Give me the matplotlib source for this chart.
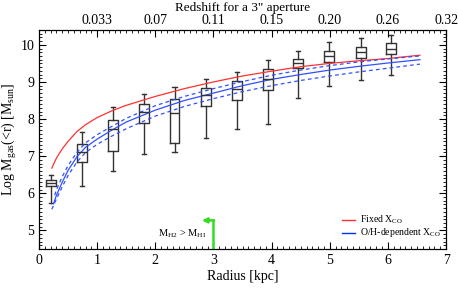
import matplotlib
matplotlib.use("Agg")
import matplotlib.pyplot as plt
from matplotlib.ticker import MultipleLocator

plt.rcParams['font.family'] = ['Liberation Serif', 'DejaVu Serif']
plt.rcParams['mathtext.fontset'] = 'custom'
plt.rcParams['mathtext.rm'] = 'Liberation Serif'
plt.rcParams['mathtext.it'] = 'Liberation Serif'

# box plot data: radius bins and Log Mgas statistics
box_r = [0.21, 0.745, 1.27, 1.81, 2.33, 2.87, 3.40, 3.93, 4.46, 4.99, 5.53, 6.05]
whis_lo = [5.75, 6.19, 6.61, 7.05, 7.11, 7.50, 7.72, 7.86, 8.56, 8.89, 9.06, 9.18]
q1 = [6.19, 6.85, 7.14, 7.89, 7.35, 8.34, 8.52, 8.77, 9.37, 9.55, 9.65, 9.75]
med = [6.28, 7.11, 7.73, 8.18, 8.17, 8.64, 8.81, 9.08, 9.51, 9.70, 9.80, 9.90]
q3 = [6.35, 7.34, 7.98, 8.40, 8.53, 8.84, 9.02, 9.34, 9.63, 9.83, 9.95, 10.04]
whis_hi = [6.49, 7.66, 8.33, 8.68, 8.87, 9.08, 9.27, 9.59, 9.83, 10.07, 10.19, 10.27]

# curves
r_red = [0.22, 0.3, 0.4, 0.5, 0.65, 0.8, 1.0, 1.25, 1.5, 2.0, 2.5, 3.0, 3.5, 4.0, 4.5, 5.0, 5.5, 6.0, 6.55]
m_red = [6.68, 6.95, 7.20, 7.40, 7.66, 7.85, 8.04, 8.22, 8.37, 8.61, 8.82, 9.00, 9.16, 9.29, 9.41, 9.50, 9.57, 9.63, 9.72]

r_blue = [0.25, 0.3, 0.4, 0.5, 0.65, 0.8, 1.0, 1.25, 1.5, 2.0, 2.5, 3.0, 3.5, 4.0, 4.5, 5.0, 5.5, 6.0, 6.55]
m_blue = [5.72, 5.95, 6.30, 6.62, 6.98, 7.24, 7.46, 7.70, 7.92, 8.24, 8.50, 8.70, 8.90, 9.07, 9.20, 9.32, 9.42, 9.51, 9.60]

r_up = [0.27, 0.3, 0.4, 0.5, 0.65, 0.8, 1.0, 1.25, 1.5, 2.0, 2.5, 3.0, 3.5, 4.0, 4.5, 5.0, 5.5, 6.0, 6.55]
m_up = [5.95, 6.10, 6.45, 6.75, 7.10, 7.36, 7.58, 7.80, 8.02, 8.36, 8.61, 8.82, 9.01, 9.18, 9.32, 9.44, 9.54, 9.62, 9.70]

r_lo = [0.22, 0.3, 0.4, 0.5, 0.65, 0.8, 1.0, 1.25, 1.5, 2.0, 2.5, 3.0, 3.5, 4.0, 4.5, 5.0, 5.5, 6.0, 6.55]
m_lo = [5.57, 5.85, 6.18, 6.48, 6.84, 7.10, 7.32, 7.54, 7.74, 8.08, 8.34, 8.55, 8.74, 8.90, 9.04, 9.16, 9.27, 9.37, 9.48]

# top axis: redshift for a 3" aperture
z_pos = [1, 2, 3, 4, 5, 6, 7]
z_labels = ['0.033', '0.07', '0.11', '0.15', '0.20', '0.26', '0.32']

fig = plt.figure(figsize=(4.58, 2.88), dpi=100)
ax = fig.add_axes([0.0852, 0.1354, 0.974 - 0.0852, 0.896 - 0.1354])

stats = []
for i in range(len(box_r)):
    stats.append(dict(med=med[i], q1=q1[i], q3=q3[i], whislo=whis_lo[i], whishi=whis_hi[i], fliers=[]))
kw = dict(color='#333333', linewidth=1.0)
ax.bxp(stats, positions=box_r, widths=0.17, capwidths=0.07, manage_ticks=False,
       boxprops=kw, whiskerprops=kw, capprops=kw,
       medianprops=dict(color='#333333', linewidth=1.0))

ax.plot(r_red, m_red, color='#ff3030', lw=0.9)
ax.plot(r_blue, m_blue, color='#3050ff', lw=0.9)
ax.plot(r_up, m_up, color='#3050ff', lw=0.9, ls=(0, (3, 2.5)))
ax.plot(r_lo, m_lo, color='#3050ff', lw=0.9, ls=(0, (3, 2.5)))

# green arrow
ax.plot([3.0, 3.0], [4.5, 5.27], color='#33dd22', lw=1.8)
ax.annotate('', xy=(2.8, 5.27), xytext=(3.01, 5.27),
            arrowprops=dict(arrowstyle='-|>', color='#33dd22', lw=1.8, mutation_scale=7,
                            shrinkA=0, shrinkB=0))
ax.text(2.88, 4.9, r'M$_{\rm H2}$ > M$_{\rm HI}$', fontsize=7.5, ha='right', va='center')

# legend
ax.plot([5.21, 5.44], [5.28, 5.28], color='#ff3030', lw=1)
ax.plot([5.21, 5.44], [4.93, 4.93], color='#0030ff', lw=1)
ax.text(5.52, 5.29, r'Fixed X$_{\rm CO}$', fontsize=7, va='center')
ax.text(5.52, 4.94, r'O/H-dependent X$_{\rm CO}$', fontsize=7, va='center')

ax.set_xlim(0, 7)
ax.set_ylim(4.5, 10.4)
ax.xaxis.set_major_locator(MultipleLocator(1))
ax.xaxis.set_minor_locator(MultipleLocator(0.1))
ax.yaxis.set_major_locator(MultipleLocator(1))
ax.yaxis.set_minor_locator(MultipleLocator(0.1))
ax.set_yticks([5, 6, 7, 8, 9, 10])
ax.tick_params(which='both', direction='in', top=False, right=True, labelsize=10)
ax.tick_params(which='major', length=5, width=0.8)
ax.tick_params(which='minor', length=2.5, width=0.6)
ax.set_xlabel('Radius [kpc]', fontsize=10, labelpad=2)
ax.set_ylabel(r'Log M$_{\rm gas}$(<r) [M$_{\rm sun}$]', fontsize=10, labelpad=1)

top = ax.twiny()
top.set_xlim(0, 7)
top.set_xticks(z_pos)
top.set_xticklabels(z_labels)
top.xaxis.set_minor_locator(MultipleLocator(0.1))
top.tick_params(which='both', direction='in', labelsize=10, pad=2)
top.tick_params(which='major', length=5, width=0.8)
top.tick_params(which='minor', length=2.5, width=0.6)
top.set_xlabel('Redshift for a 3" aperture', fontsize=9.5, labelpad=2.5)

fig.savefig('out.png', dpi=100)
